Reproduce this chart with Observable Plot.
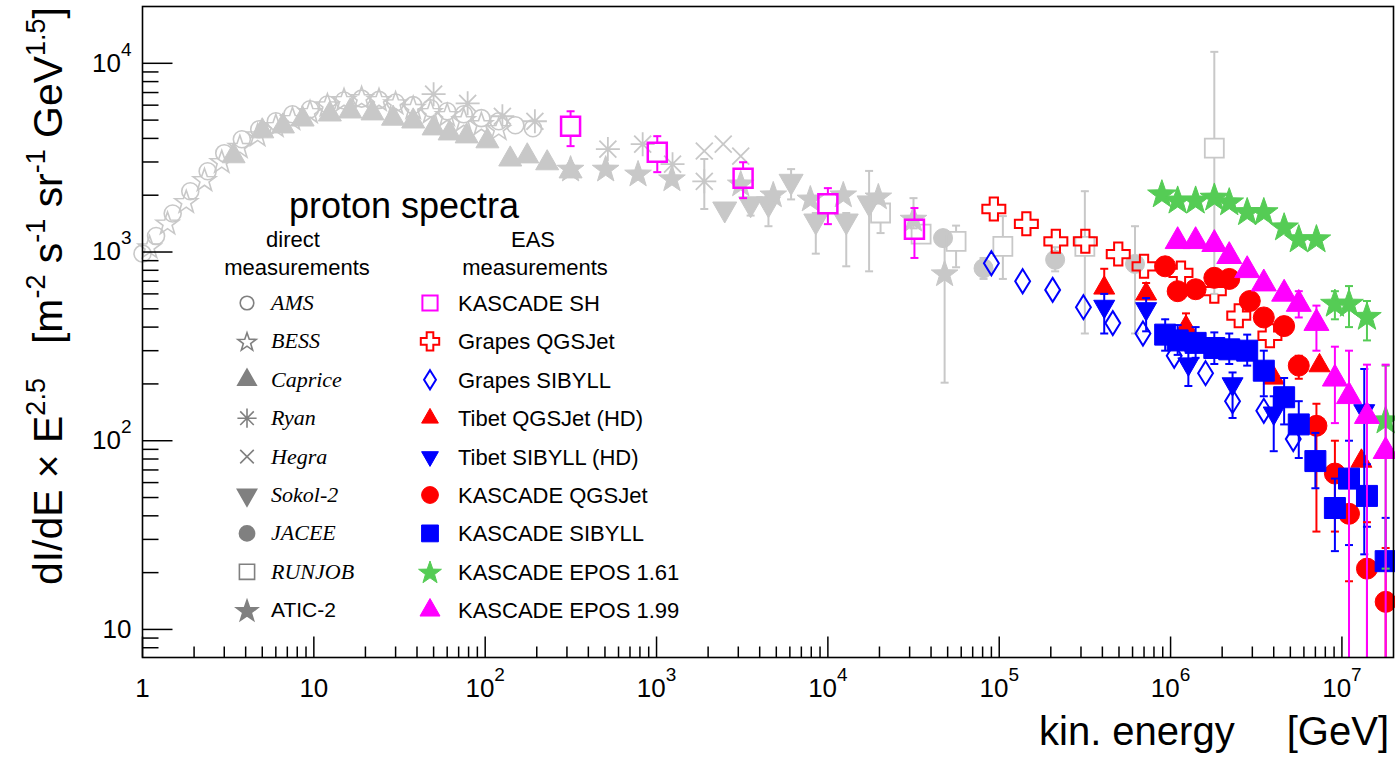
<!DOCTYPE html>
<html><head><meta charset="utf-8">
<script src="https://cdn.jsdelivr.net/npm/d3@7"></script>
<script src="https://cdn.jsdelivr.net/npm/@observablehq/plot@0.6"></script>
<style>
html,body{margin:0;padding:0;background:#fff;}
#wrap{position:relative;width:1395px;height:761px;}
#wrap svg.overlay{position:absolute;left:0;top:0;pointer-events:none;}
</style></head>
<body><div id="wrap"></div>
<script>
// ---------------- DATA ----------------
const xMajor = [1, 10, 1e2, 1e3, 1e4, 1e5, 1e6, 1e7];
const xTickLabels = ["1", "10", "10^2", "10^3", "10^4", "10^5", "10^6", "10^7"];
const yMajor = [10, 1e2, 1e3, 1e4];
const yTickLabels = ["10", "10^2", "10^3", "10^4"];

// direct measurements
const amsE = [1.0,1.2,1.5,1.9,2.4,3.0,3.8,4.8,6.0,7.5,9.5,12,15,19,24,30,38,48,60,75,95,120,150,190];
const amsV = [980,1215,1600,2100,2680,3340,3960,4470,4930,5370,5710,6050,6350,6500,6400,6200,6000,5780,5570,5370,5120,4930,4700,4530];
const bessE = [1.1,1.4,1.8,2.3,2.9,3.7,4.7,6.0,7.5,9.5,12,15,19,24,30,38,48,60,75,95,120];
const bessV = [1070,1430,1860,2430,3030,3640,4200,4700,5120,5570,6050,6450,6600,6450,6200,5860,5570,5370,5050,4810,4530];
const capriceE = [3.4,5.0,6.6,8.6,12.4,16.3,22,29,38,50,62,78,103,140,176,230,315];
const capriceV = [3225,4370,4640,5050,5370,5570,5440,5100,4930,4530,4260,4110,3870,3100,3220,2960,2680];
const ryanE = [50,79,126,195,520,830,1240,1900];
const ryanV = [6860,6140,5240,4930,3510,3730,2920,2370];
const ryanLo = [null,null,null,null,null,null,null,1690];
const ryanHi = [null,null,null,null,null,null,null,3110];
const hegraE = [1900,2450,3100];
const hegraV = [3430,3730,3220];
const sokolE = [2500,3540,4500,6100,8500,12800,17400];
const sokolV = [1690,1800,1800,2370,1460,1460,1820];
const sokolLo = [null,1560,1370,1900,980,840,790];
const sokolHi = [null,null,1980,2750,1610,1610,2690];
const jaceeE = [47000,81000,212000,620000];
const jaceeV = [1185,820,910,865];
const jaceeLo = [null,720,790,370];
const jaceeHi = [null,930,1060,1370];
const runjobE = [20300,35000,56000,105000,316000,1.8e6];
const runjobV = [1610,1245,1140,1070,1070,3550];
const runjobLo = [1260,null,830,720,370,600];
const runjobHi = [1820,null,1380,1550,2100,11500];
const aticE = [315,505,780,1230,3100,4800,7900,12300,19700,31600,48000];
const aticV = [2780,2780,2620,2470,2320,2030,1930,2030,1980,1510,775];
const aticLo = [null,null,null,null,null,null,null,null,null,1335,203];
const aticHi = [null,null,null,null,null,null,null,null,null,1930,1245];

// EAS measurements
const kshE = [315,1010,3200,10000,32000];
const kshV = [4640,3380,2460,1800,1320];
const kshLo = [3640,2650,1930,1405,930];
const kshHi = [5570,4110,2990,2180,1710];
const gqE = [93000,144000,214000,318000,495000,700000,1.15e6,1.8e6,2.5e6,3.8e6];
const gqV = [1690,1410,1140,1140,975,840,775,620,460,360];
const gsE = [90000,137000,205000,310000,460000,690000,1.05e6,1.6e6,2.3e6,3.5e6,5.2e6];
const gsV = [872,700,630,510,420,370,282,228,162,144,102];
const tqE = [410000,720000,1.23e6,4.0e6,7.4e6,1.3e7];
const tqV = [645,600,400,215,250,78];
const tqLo = [null,null,null,null,null,null];
const tqHi = [815,685,473,null,null,null];
const tsE = [410000,720000,1.27e6,2.3e6,4.0e6,1.35e7];
const tsV = [515,500,255,200,140,144];
const tsLo = [370,380,195,132,88,25];
const tsHi = [600,570,300,230,172,240];
const kqE = [9.3e5,1.1e6,1.4e6,1.8e6,2.2e6,2.9e6,3.5e6,4.6e6,5.6e6,7.1e6,9.1e6,1.1e7,1.4e7,1.8e7];
const kqV = [840,620,635,730,720,550,450,405,250,120,67,41,21,14];
const kqLo = [null,null,null,null,null,null,null,null,213,33,33,18,5,5];
const kqHi = [null,null,null,null,null,null,null,null,282,157,100,69,37,27];
const ksE = [9.3e5,1.1e6,1.4e6,1.8e6,2.2e6,2.8e6,3.5e6,4.6e6,5.6e6,7.0e6,9.1e6,1.1e7,1.4e7,1.8e7];
const ksV = [365,340,330,310,305,300,235,170,122,78,44,63,51,23];
const ksLo = [300,285,275,255,255,250,172,122,81,56,26,28,35,21];
const ksHi = [440,410,400,375,370,365,300,215,162,110,63,100,75,39];
const e161E = [8.9e5,1.1e6,1.4e6,1.8e6,2.2e6,2.8e6,3.5e6,4.6e6,5.6e6,7.1e6,9.1e6,1.1e7,1.4e7,1.8e7];
const e161V = [2050,1900,1900,1970,1860,1650,1650,1370,1185,1185,540,540,460,130];
const e161Lo = [null,null,null,null,null,null,null,null,null,null,440,400,340,21];
const e161Hi = [null,null,null,null,null,null,null,null,null,null,620,660,550,250];
const e199E = [1.1e6,1.4e6,1.8e6,2.2e6,2.8e6,3.5e6,4.6e6,5.6e6,7.1e6,9.1e6,1.1e7,1.4e7,1.8e7];
const e199V = [1140,1140,1100,950,800,680,600,530,420,213,172,135,88];
const e199Lo = [null,null,null,null,null,null,null,450,300,124,5,5,5];
const e199Hi = [null,null,null,null,null,null,null,620,520,315,300,253,253];

const series = [
  {name:"AMS", E:amsE, V:amsV},
  {name:"BESS", E:bessE, V:bessV},
  {name:"Caprice", E:capriceE, V:capriceV},
  {name:"Ryan", E:ryanE, V:ryanV, lo:ryanLo, hi:ryanHi},
  {name:"Hegra", E:hegraE, V:hegraV},
  {name:"Sokol-2", E:sokolE, V:sokolV, lo:sokolLo, hi:sokolHi},
  {name:"JACEE", E:jaceeE, V:jaceeV, lo:jaceeLo, hi:jaceeHi},
  {name:"RUNJOB", E:runjobE, V:runjobV, lo:runjobLo, hi:runjobHi},
  {name:"ATIC-2", E:aticE, V:aticV, lo:aticLo, hi:aticHi},
  {name:"KASCADE SH", E:kshE, V:kshV, lo:kshLo, hi:kshHi},
  {name:"Grapes QGSJet", E:gqE, V:gqV},
  {name:"Grapes SIBYLL", E:gsE, V:gsV},
  {name:"Tibet QGSJet (HD)", E:tqE, V:tqV, lo:tqLo, hi:tqHi},
  {name:"Tibet SIBYLL (HD)", E:tsE, V:tsV, lo:tsLo, hi:tsHi},
  {name:"KASCADE QGSJet", E:kqE, V:kqV, lo:kqLo, hi:kqHi},
  {name:"KASCADE SIBYLL", E:ksE, V:ksV, lo:ksLo, hi:ksHi},
  {name:"KASCADE EPOS 1.61", E:e161E, V:e161V, lo:e161Lo, hi:e161Hi},
  {name:"KASCADE EPOS 1.99", E:e199E, V:e199V, lo:e199Lo, hi:e199Hi}
];

// ---------------- STYLE ----------------
const FONT = '"Liberation Sans", Arial, Helvetica, sans-serif';
const GRAY = "#c8c8c8", LGRAY = "#808080";
const MAG = "#ff00ff", RED = "#ff0000", BLUE = "#0000ff", GREEN = "#55cc55";
const style = {
  "AMS": {group:"direct", sym:"circle", r:8.5, filled:false, color:GRAY, sw:1.6, gap:8.5},
  "BESS": {group:"direct", sym:"star", r:12, filled:false, color:GRAY, sw:1.6, gap:10},
  "Caprice": {group:"direct", sym:"triUp", r:11.5, filled:true, color:GRAY, sw:1, gap:0},
  "Ryan": {group:"direct", sym:"asterisk", r:12, filled:false, color:GRAY, sw:1.8, gap:0},
  "Hegra": {group:"direct", sym:"times", r:12, filled:false, color:GRAY, sw:1.8, gap:0},
  "Sokol-2": {group:"direct", sym:"triDown", r:12, filled:true, color:GRAY, sw:1, gap:0},
  "JACEE": {group:"direct", sym:"circle", r:9.5, filled:true, color:GRAY, sw:1, gap:0},
  "RUNJOB": {group:"direct", sym:"square", r:9.5, filled:false, color:GRAY, sw:1.8, gap:9.5},
  "ATIC-2": {group:"direct", sym:"star", r:14, filled:true, color:GRAY, sw:1, gap:0},
  "KASCADE SH": {group:"eas", sym:"square", r:9.5, filled:false, color:MAG, sw:2.5, gap:9.5},
  "Grapes QGSJet": {group:"eas", sym:"cross", r:11.5, filled:false, color:RED, sw:2, gap:11},
  "Grapes SIBYLL": {group:"eas", sym:"diamond", r:12, filled:false, color:BLUE, sw:2, gap:12},
  "Tibet QGSJet (HD)": {group:"eas", sym:"triUp", r:10.5, filled:true, color:RED, sw:1, gap:0},
  "Tibet SIBYLL (HD)": {group:"eas", sym:"triDown", r:10.5, filled:true, color:BLUE, sw:1, gap:0},
  "KASCADE QGSJet": {group:"eas", sym:"circle", r:10.5, filled:true, color:RED, sw:1, gap:0},
  "KASCADE SIBYLL": {group:"eas", sym:"square", r:10.5, filled:true, color:BLUE, sw:1, gap:0},
  "KASCADE EPOS 1.61": {group:"eas", sym:"star", r:15, filled:true, color:GREEN, sw:1, gap:0},
  "KASCADE EPOS 1.99": {group:"eas", sym:"triUp", r:12.5, filled:true, color:MAG, sw:1, gap:0}
};

// ---------------- SYMBOLS ----------------
const rOf = s => Math.sqrt(s / Math.PI);
const SYM = {
  circle: {draw(c, s) { const r = rOf(s); c.moveTo(r, 0); c.arc(0, 0, r, 0, 2 * Math.PI); c.closePath(); }},
  square: {draw(c, s) { const r = rOf(s); c.moveTo(-r, -r); c.lineTo(r, -r); c.lineTo(r, r); c.lineTo(-r, r); c.closePath(); }},
  triUp: {draw(c, s) { const r = rOf(s), h = r * 1.75; c.moveTo(0, -h * 2 / 3); c.lineTo(r, h / 3); c.lineTo(-r, h / 3); c.closePath(); }},
  triDown: {draw(c, s) { const r = rOf(s), h = r * 1.75; c.moveTo(0, h * 2 / 3); c.lineTo(r, -h / 3); c.lineTo(-r, -h / 3); c.closePath(); }},
  star: {draw(c, s) { const R = rOf(s), ri = R * 0.4;
    for (let i = 0; i < 10; i++) { const a = -Math.PI / 2 + i * Math.PI / 5, rr = i % 2 ? ri : R;
      const x = rr * Math.cos(a), y = rr * Math.sin(a) + R * 0.1; if (i) c.lineTo(x, y); else c.moveTo(x, y); }
    c.closePath(); }},
  cross: {draw(c, s) { const r = rOf(s), w = r * 0.36;
    const p = [[-w,-r],[w,-r],[w,-w],[r,-w],[r,w],[w,w],[w,r],[-w,r],[-w,w],[-r,w],[-r,-w],[-w,-w]];
    p.forEach((q, i) => i ? c.lineTo(q[0], q[1]) : c.moveTo(q[0], q[1])); c.closePath(); }},
  diamond: {draw(c, s) { const r = rOf(s), w = r * 0.62; c.moveTo(0, -r); c.lineTo(w, 0); c.lineTo(0, r); c.lineTo(-w, 0); c.closePath(); }},
  asterisk: {draw(c, s) { const r = rOf(s); for (let i = 0; i < 4; i++) { const a = i * Math.PI / 4;
    c.moveTo(r * Math.cos(a), r * Math.sin(a)); c.lineTo(-r * Math.cos(a), -r * Math.sin(a)); } }},
  times: {draw(c, s) { const r = rOf(s) * 0.7071; c.moveTo(-r, -r); c.lineTo(r, r); c.moveTo(r, -r); c.lineTo(-r, r); }},
  cap: {draw(c, s) { const r = rOf(s); c.moveTo(-r, 0); c.lineTo(r, 0); }},
  tickUp: {draw(c, s) { const r = rOf(s); c.moveTo(0, 0); c.lineTo(0, -r); }},
  tickRight: {draw(c, s) { const r = rOf(s); c.moveTo(0, 0); c.lineTo(r, 0); }}
};

function marksFor(s) {
  const st = style[s.name];
  const rows = s.E.map((e, i) => ({E: e, V: s.V[i], lo: s.lo ? s.lo[i] : null, hi: s.hi ? s.hi[i] : null}));
  const hiRows = rows.filter(d => d.hi != null), loRows = rows.filter(d => d.lo != null);
  const ec = st.color, ew = 2;
  return [
    Plot.ruleX(hiRows, {x: "E", y1: "hi", y2: "V", stroke: ec, strokeWidth: ew, insetBottom: st.gap, clip: true}),
    Plot.ruleX(loRows, {x: "E", y1: "V", y2: "lo", stroke: ec, strokeWidth: ew, insetTop: st.gap, clip: true}),
    Plot.dot(hiRows, {x: "E", y: "hi", symbol: SYM.cap, r: 4, stroke: ec, strokeWidth: ew, clip: true}),
    Plot.dot(loRows, {x: "E", y: "lo", symbol: SYM.cap, r: 4, stroke: ec, strokeWidth: ew, clip: true}),
    Plot.dot(rows, {x: "E", y: "V", symbol: SYM[st.sym], r: st.r, fill: st.filled ? st.color : "none",
      stroke: st.color, strokeWidth: st.sw})
  ];
}

// minor tick positions (axis decoration)
const xMinor = [], yMinor = [];
for (let k = 0; k <= 7; k++) for (let m = 2; m <= 9; m++) { const v = m * 10 ** k; if (v < 2e7) xMinor.push(v); }
for (let k = 0; k <= 4; k++) for (let m = 2; m <= 9; m++) { const v = m * 10 ** k; if (v > 7.1 && v < 2e4) yMinor.push(v); }

const W = 1395, H = 761;
const plot = Plot.plot({
  width: W, height: H,
  marginLeft: 142, marginRight: 2, marginTop: 6, marginBottom: 104,
  x: {type: "log", domain: [1, 2e7], label: null},
  y: {type: "log", domain: [7.1, 2e4], label: null},
  style: {fontFamily: FONT, background: "white", color: "black"},
  marks: [
    ...series.flatMap(marksFor),
    Plot.frame({stroke: "#000", strokeWidth: 1.6}),
    Plot.dot(xMajor, {x: d => d, frameAnchor: "bottom", symbol: SYM.tickUp, r: 21, stroke: "#000", strokeWidth: 1.5}),
    Plot.dot(xMinor, {x: d => d, frameAnchor: "bottom", symbol: SYM.tickUp, r: 11, stroke: "#000", strokeWidth: 1.5}),
    Plot.dot(yMajor, {y: d => d, frameAnchor: "left", symbol: SYM.tickRight, r: 30, stroke: "#000", strokeWidth: 1.5}),
    Plot.dot(yMinor, {y: d => d, frameAnchor: "left", symbol: SYM.tickRight, r: 16, stroke: "#000", strokeWidth: 1.5}),
    Plot.axisX({ticks: xMajor, tickFormat: d => xTickLabels[xMajor.indexOf(d)], tickSize: 0, tickPadding: 21, fontSize: 26, label: null}),
    Plot.axisY({ticks: yMajor, tickFormat: d => yTickLabels[yMajor.indexOf(d)], tickSize: 0, tickPadding: 11, fontSize: 26, label: null})
  ]
});

const svg = d3.select(plot);
svg.selectAll('g[aria-label="x-axis tick label"] text, g[aria-label="y-axis tick label"] text').each(function () {
  const t = this.textContent, k = t.indexOf("^");
  if (k < 0) return;
  const el = d3.select(this);
  el.text(t.slice(0, k));
  el.append("tspan").attr("dy", -16).attr("font-size", 19).text(t.slice(k + 1));
});

const wrap = document.getElementById("wrap");
wrap.appendChild(plot);

// axis titles
const yt = svg.append("text").attr("transform", "translate(62,585) rotate(-90)")
  .attr("text-anchor", "start").attr("fill", "#000").attr("font-family", FONT);
const ytParts = [["dI/dE \u00d7 E", 0], ["2.5", 1], ["\u00a0\u00a0\u00a0[m", 0], ["-2", 1], ["\u00a0s", 0], ["-1", 1], ["\u00a0sr", 0], ["-1", 1], ["\u00a0GeV", 0], ["1.5", 1], ["]", 0]];
function buildYTitle(f) {
  yt.selectAll("tspan").remove();
  const lift = f * 0.42;
  let cur = 0;
  ytParts.forEach(([t, sup]) => {
    const target = sup ? -lift : 0;
    yt.append("tspan").attr("dy", target - cur).attr("font-size", sup ? f * 0.66 : f).text(t);
    cur = target;
  });
}
let fY = 42;
buildYTitle(fY);
const len = yt.node().getBBox().width;
if (len > 578) { fY = fY * 578 / len; buildYTitle(fY); }

svg.append("text").attr("x", 1039).attr("y", 745).attr("text-anchor", "start").attr("font-size", 40).attr("font-family", FONT).text("kin. energy");
svg.append("text").attr("x", 1389).attr("y", 745).attr("text-anchor", "end").attr("font-size", 40).attr("font-family", FONT).text("[GeV]");

// ---------------- LEGEND (overlay) ----------------
const lg = d3.select(wrap).append("svg").attr("class", "overlay").attr("width", W).attr("height", H)
  .attr("font-family", FONT);
lg.append("text").attr("x", 404).attr("y", 218).attr("text-anchor", "middle").attr("font-size", 36).text("proton spectra");
[["direct", 293, 247], ["measurements", 297, 275], ["EAS", 533, 247], ["measurements", 535, 275]].forEach(([t, x, y]) =>
  lg.append("text").attr("x", x).attr("y", y).attr("text-anchor", "middle").attr("font-size", 22).text(t));
const direct = series.filter(s => style[s.name].group === "direct");
const eas = series.filter(s => style[s.name].group === "eas");
const rowY = i => 303 + i * 38.4;
direct.forEach((s, i) => {
  const st = style[s.name], r = st.r * 0.8;
  lg.append("path").attr("transform", `translate(247,${rowY(i)})`)
    .attr("d", d3.symbol(SYM[st.sym], Math.PI * r * r)())
    .attr("fill", st.filled ? LGRAY : "none").attr("stroke", LGRAY).attr("stroke-width", 1.6);
  const italic = s.name !== "ATIC-2";
  lg.append("text").attr("x", 271).attr("y", rowY(i) + 7)
    .attr("font-size", italic ? 22 : 21)
    .attr("font-family", italic ? '"Liberation Serif", "Times New Roman", serif' : FONT)
    .attr("font-style", italic ? "italic" : "normal").text(s.name);
});
eas.forEach((s, i) => {
  const st = style[s.name], r = st.r * 0.8;
  lg.append("path").attr("transform", `translate(430,${rowY(i)})`)
    .attr("d", d3.symbol(SYM[st.sym], Math.PI * r * r)())
    .attr("fill", st.filled ? st.color : "none").attr("stroke", st.color).attr("stroke-width", st.filled ? 1 : 2);
  lg.append("text").attr("x", 458).attr("y", rowY(i) + 8).attr("font-size", 22).text(s.name);
});
</script>
</body></html>
